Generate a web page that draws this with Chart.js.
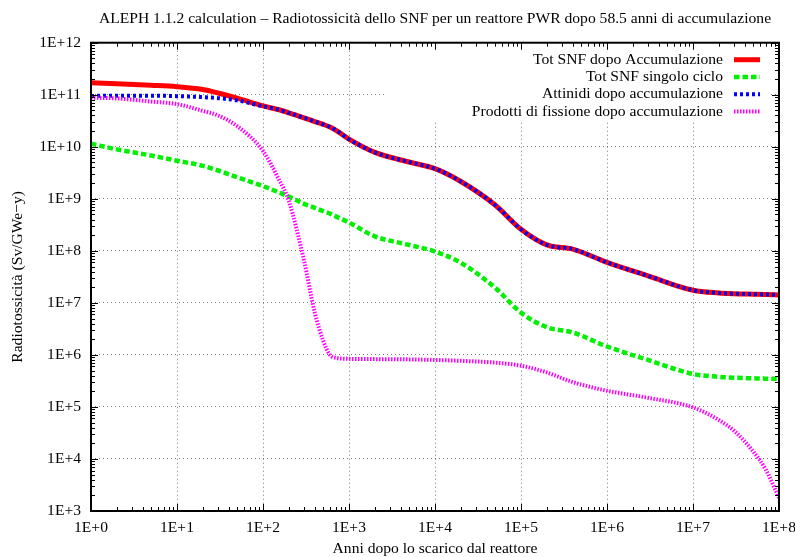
<!DOCTYPE html>
<html>
<head>
<meta charset="utf-8">
<script src="https://cdn.jsdelivr.net/npm/chart.js@4.4.1/dist/chart.umd.min.js"></script>
<style>
  html, body { margin: 0; padding: 0; background: #fff; }
  #wrap { width: 795px; height: 557px; }
</style>
</head>
<body>
<div id="wrap"><canvas id="radioChart"></canvas></div>
<script>
// anni dopo lo scarico (asse x, log)
const years = [1, 2, 5, 10, 20, 30, 50, 100, 150, 200, 300, 400, 500, 600, 700,
  1e3, 2e3, 5e3, 1e4, 2e4, 5e4, 1e5, 2e5, 4e5, 1e6, 3e6, 1e7, 2e7, 3e7, 5e7, 7e7, 1e8];

// Sv/GWe-y
const totAccum = [1.70e11, 1.62e11, 1.52e11, 1.43e11, 1.26e11, 1.08e11, 8.6e10, 6.1e10, 5.2e10, 4.5e10, 3.6e10, 3.05e10, 2.7e10, 2.4e10, 2.1e10,
  1.4e10, 7.8e9, 5.1e9, 3.8e9, 2.15e9, 7.6e8, 2.6e8, 1.3e8, 1.08e8, 6.0e7, 3.3e7, 1.75e7, 1.55e7, 1.5e7, 1.47e7, 1.45e7, 1.42e7];
const totSingolo = [1.15e10, 8.9e9, 6.8e9, 5.4e9, 4.3e9, 3.5e9, 2.6e9, 1.75e9, 1.35e9, 1.1e9, 8.0e8, 6.7e8, 5.8e8, 5.2e8, 4.6e8,
  3.5e8, 1.9e8, 1.3e8, 9.7e7, 5.9e7, 1.95e7, 6.5e6, 3.4e6, 2.7e6, 1.45e6, 8.0e5, 4.3e5, 3.8e5, 3.65e5, 3.55e5, 3.5e5, 3.5e5];
const attinidi = [9.5e10, 9.6e10, 9.6e10, 9.4e10, 9.0e10, 8.6e10, 7.8e10, 6.0e10, 5.2e10, 4.5e10, 3.6e10, 3.05e10, 2.7e10, 2.4e10, 2.1e10,
  1.4e10, 7.8e9, 5.1e9, 3.8e9, 2.15e9, 7.6e8, 2.6e8, 1.3e8, 1.08e8, 6.0e7, 3.3e7, 1.75e7, 1.55e7, 1.5e7, 1.47e7, 1.45e7, 1.42e7];
const prodottiFissione = [8.8e10, 8.5e10, 7.4e10, 6.6e10, 4.9e10, 4.0e10, 2.5e10, 8.3e9, 2.5e9, 9e8, 6.5e7, 6.5e6, 1.9e6, 1.0e6, 8.8e5,
  8.4e5, 8.3e5, 8.2e5, 8.0e5, 7.7e5, 7.1e5, 6.2e5, 4.6e5, 3.0e5, 2.05e5, 1.5e5, 9.8e4, 5.6e4, 3.5e4, 1.4e4, 6.3e3, 1.8e3];

const xTicks = [1, 1e1, 1e2, 1e3, 1e4, 1e5, 1e6, 1e7, 1e8];
const yTicks = [1e3, 1e4, 1e5, 1e6, 1e7, 1e8, 1e9, 1e10, 1e11, 1e12];

const fmtExp = v => '1E+' + Math.round(Math.log10(v));
const pts = arr => years.map((x, i) => ({ x: x, y: arr[i] }));

const FONT = "'Liberation Serif', 'DejaVu Serif', serif";
Chart.defaults.font.family = FONT;
Chart.defaults.font.size = 15.6;
Chart.defaults.color = '#000';

// cornice, tacche interne e legenda alla gnuplot
const gnuFrame = {
  id: 'gnuFrame',
  beforeDatasetsDraw(chart) {
    const { ctx, chartArea: a } = chart;
    ctx.save();
    ctx.fillStyle = '#fff';
    ctx.fillRect(a.right - 392, a.top + 6, 381, 73);
    ctx.restore();
  },
  afterDatasetsDraw(chart) {
    const { ctx, chartArea: a, scales } = chart;
    ctx.save();
    ctx.strokeStyle = '#000';
    ctx.lineWidth = 1;
    ctx.beginPath();
    xTicks.forEach(d => {
      for (let m = 1; m <= 9; m++) {
        const v = d * m;
        if (v > 1e8) break;
        const px = Math.round(scales.x.getPixelForValue(v)) + 0.5;
        const len = m === 1 ? 7 : 4;
        ctx.moveTo(px, a.bottom); ctx.lineTo(px, a.bottom - len);
        ctx.moveTo(px, a.top); ctx.lineTo(px, a.top + len);
      }
    });
    yTicks.forEach(d => {
      for (let m = 1; m <= 9; m++) {
        const v = d * m;
        if (v > 1e12) break;
        const py = Math.round(scales.y.getPixelForValue(v)) + 0.5;
        const len = m === 1 ? 7 : 4;
        ctx.moveTo(a.left, py); ctx.lineTo(a.left + len, py);
        ctx.moveTo(a.right, py); ctx.lineTo(a.right - len, py);
      }
    });
    ctx.stroke();
    ctx.lineWidth = 2;
    ctx.strokeRect(a.left, a.top, a.right - a.left, a.bottom - a.top);
    ctx.restore();
  },
  afterDraw(chart) {
    const { ctx, chartArea: a } = chart;
    ctx.save();
    ctx.font = '15.6px ' + FONT;
    ctx.textAlign = 'right';
    ctx.textBaseline = 'middle';
    chart.data.datasets.forEach((ds, i) => {
      const y = a.top + 17 + i * 17.3;
      ctx.fillStyle = '#000';
      ctx.fillText(ds.label, a.right - 56, y);
      ctx.strokeStyle = ds.borderColor;
      ctx.lineWidth = ds.borderWidth;
      ctx.setLineDash(ds.borderDash);
      ctx.beginPath();
      ctx.moveTo(a.right - 45, y);
      ctx.lineTo(a.right - 19, y);
      ctx.stroke();
    });
    ctx.restore();
  }
};

const gridOpts = { color: '#7a7a7a', lineWidth: 1, drawTicks: false };
const borderOpts = { display: false, dash: [1, 3] };

new Chart(document.getElementById('radioChart'), {
  type: 'line',
  data: {
    datasets: [{
      label: 'Tot SNF dopo Accumulazione',
      data: pts(totAccum),
      borderColor: '#ff0000',
      borderWidth: 5,
      borderDash: [],
      order: 3
    }, {
      label: 'Tot SNF singolo ciclo',
      data: pts(totSingolo),
      borderColor: '#00f000',
      borderWidth: 4.5,
      borderDash: [5.5, 3],
      order: 2
    }, {
      label: 'Attinidi dopo accumulazione',
      data: pts(attinidi),
      borderColor: '#0000ff',
      borderWidth: 4,
      borderDash: [3, 3],
      order: 1
    }, {
      label: 'Prodotti di fissione dopo accumulazione',
      data: pts(prodottiFissione),
      borderColor: '#ff00ff',
      borderWidth: 4,
      borderDash: [1.5, 1.5],
      order: 0
    }]
  },
  options: {
    responsive: true,
    maintainAspectRatio: false,
    animation: false,
    layout: { padding: { left: 0, right: 16, top: 0, bottom: 0 } },
    elements: {
      point: { radius: 0 },
      line: { cubicInterpolationMode: 'monotone', fill: false }
    },
    plugins: {
      legend: { display: false },
      tooltip: { enabled: false },
      title: {
        display: true,
        fullSize: false,
        text: 'ALEPH 1.1.2 calculation \u2013 Radiotossicit\u00e0 dello SNF per un reattore PWR dopo 58.5 anni di accumulazione',
        font: { size: 15.6, weight: 'normal' },
        color: '#000',
        padding: { top: 10, bottom: 14 }
      }
    },
    scales: {
      x: {
        type: 'logarithmic',
        min: 1,
        max: 1e8,
        afterBuildTicks: s => { s.ticks = xTicks.map(v => ({ value: v })); },
        afterFit: s => { s.height = 46; s.paddingLeft = 0; s.paddingRight = 0; },
        ticks: { callback: fmtExp, autoSkip: false, maxRotation: 0, padding: 8 },
        grid: gridOpts,
        border: borderOpts,
        title: { display: true, text: 'Anni dopo lo scarico dal reattore', padding: { top: 4, bottom: -1 } }
      },
      y: {
        type: 'logarithmic',
        min: 1e3,
        max: 1e12,
        afterBuildTicks: s => { s.ticks = yTicks.map(v => ({ value: v })); },
        afterFit: s => { s.width = 91; s.paddingTop = 0; s.paddingBottom = 0; },
        ticks: { callback: fmtExp, autoSkip: false, padding: 10 },
        grid: gridOpts,
        border: borderOpts,
        title: { display: true, text: 'Radiotossicit\u00e0 (Sv/GWe\u2212y)', padding: { top: 9, bottom: 0 } }
      }
    }
  },
  plugins: [gnuFrame]
});
</script>
</body>
</html>
